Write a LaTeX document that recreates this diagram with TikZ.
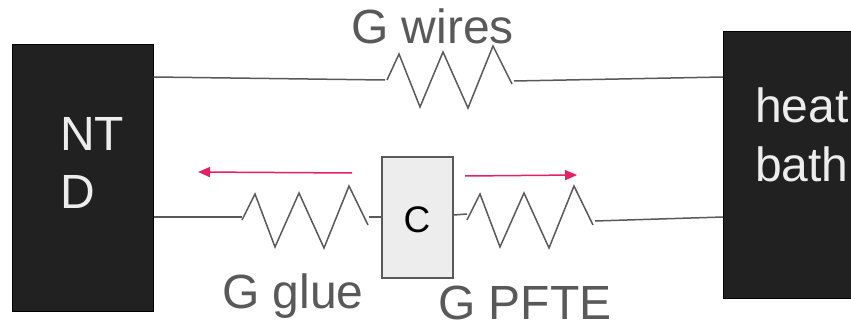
\documentclass[tikz,border=0pt]{standalone}
\usepackage{fontspec}
\setmainfont{Liberation Sans}
\usetikzlibrary{arrows.meta}
\definecolor{gtext}{HTML}{595959}
\definecolor{dark}{HTML}{212121}
\definecolor{pinkred}{HTML}{E91E63}
\tikzset{
  blackbox/.style={draw=black,fill=dark,line width=1pt,inner sep=0pt},
  capbox/.style={draw=gtext,fill=black!7,line width=1.5pt,inner sep=0pt},
  wire/.style={draw=gtext,line width=1.5pt},
  spring/.style={draw=gtext,line width=1.5pt,line join=miter},
  flow/.style={draw=pinkred,line width=1.5pt,-{Triangle[length=12pt,width=10pt]}},
  biglabel/.style={text=gtext,font=\fontsize{48}{50}\selectfont,inner sep=0pt,anchor=base west},
  boxtext/.style={text=white!93!black,font=\fontsize{48}{60}\selectfont,inner sep=0pt,anchor=base west}
}
\begin{document}
\begin{tikzpicture}[x=1pt,y=-1pt]
\useasboundingbox[fill=white] (0,0) rectangle (851,321);
% boxes
\fill[dark] (723,32) rectangle (851,298);
\draw[black,line width=1pt] (851,32) -- (723,32) -- (723,298) -- (851,298);
\coordinate (bath) at (723,165);
\node[blackbox,minimum width=141pt,minimum height=266pt] (ntd) at (82.5,178) {};
\node[capbox,minimum width=71pt,minimum height=121pt] (cap) at (417.5,217.5) {};
% text
\node[boxtext] (ntdA) at (60,150.5) {NT};
\node[boxtext] (ntdB) at (60,208.5) {D};
\node[boxtext] (heatA) at (755,122.5) {heat};
\node[boxtext] (heatB) at (755,181) {bath};
\node[text=black,font=\fontsize{37}{40}\selectfont,inner sep=0pt,anchor=base] (clabel) at (417,232.5) {C};
\node[biglabel] (gwires) at (351,44) {G wires};
\node[biglabel] (gglue) at (222,308) {G glue};
\node[biglabel] (gpfte) at (438,319) {G PFTE};
% top spring
\coordinate (ts) at (387,80); \coordinate (te) at (512,84);
\draw[spring] (ts) -- (399,54) -- (420,107) -- (443,52) -- (468,108) -- (493,46) -- (te);
\draw[wire] (ntd.east |- 0,77) -- (385,80);
\draw[wire] (514,81) -- (bath |- 0,77);
% glue spring
\coordinate (gs) at (242,220); \coordinate (ge) at (368,225);
\draw[spring] (gs) -- (255,194) -- (275,247) -- (299,193) -- (324,248) -- (349,186) -- (ge);
\draw[wire] (ntd.east |- 0,217) -- (242,217);
\draw[wire] (369,217) -- (cap.west |- 0,217);
% PFTE spring
\coordinate (ps) at (467,220); \coordinate (pe) at (593,225);
\draw[spring] (ps) -- (480,194) -- (500,247) -- (524,193) -- (549,248) -- (574,186) -- (pe);
\draw[wire] (cap.east |- 0,215) -- (467,214);
\draw[wire] (595,221) -- (bath |- 0,217);
% arrows
\coordinate (a1s) at (352,173); \coordinate (a1e) at (198,172);
\coordinate (a2s) at (465,176); \coordinate (a2e) at (577,175);
\draw[flow] (a1s) -- (a1e);
\draw[flow] (a2s) -- (a2e);
\end{tikzpicture}
\end{document}
